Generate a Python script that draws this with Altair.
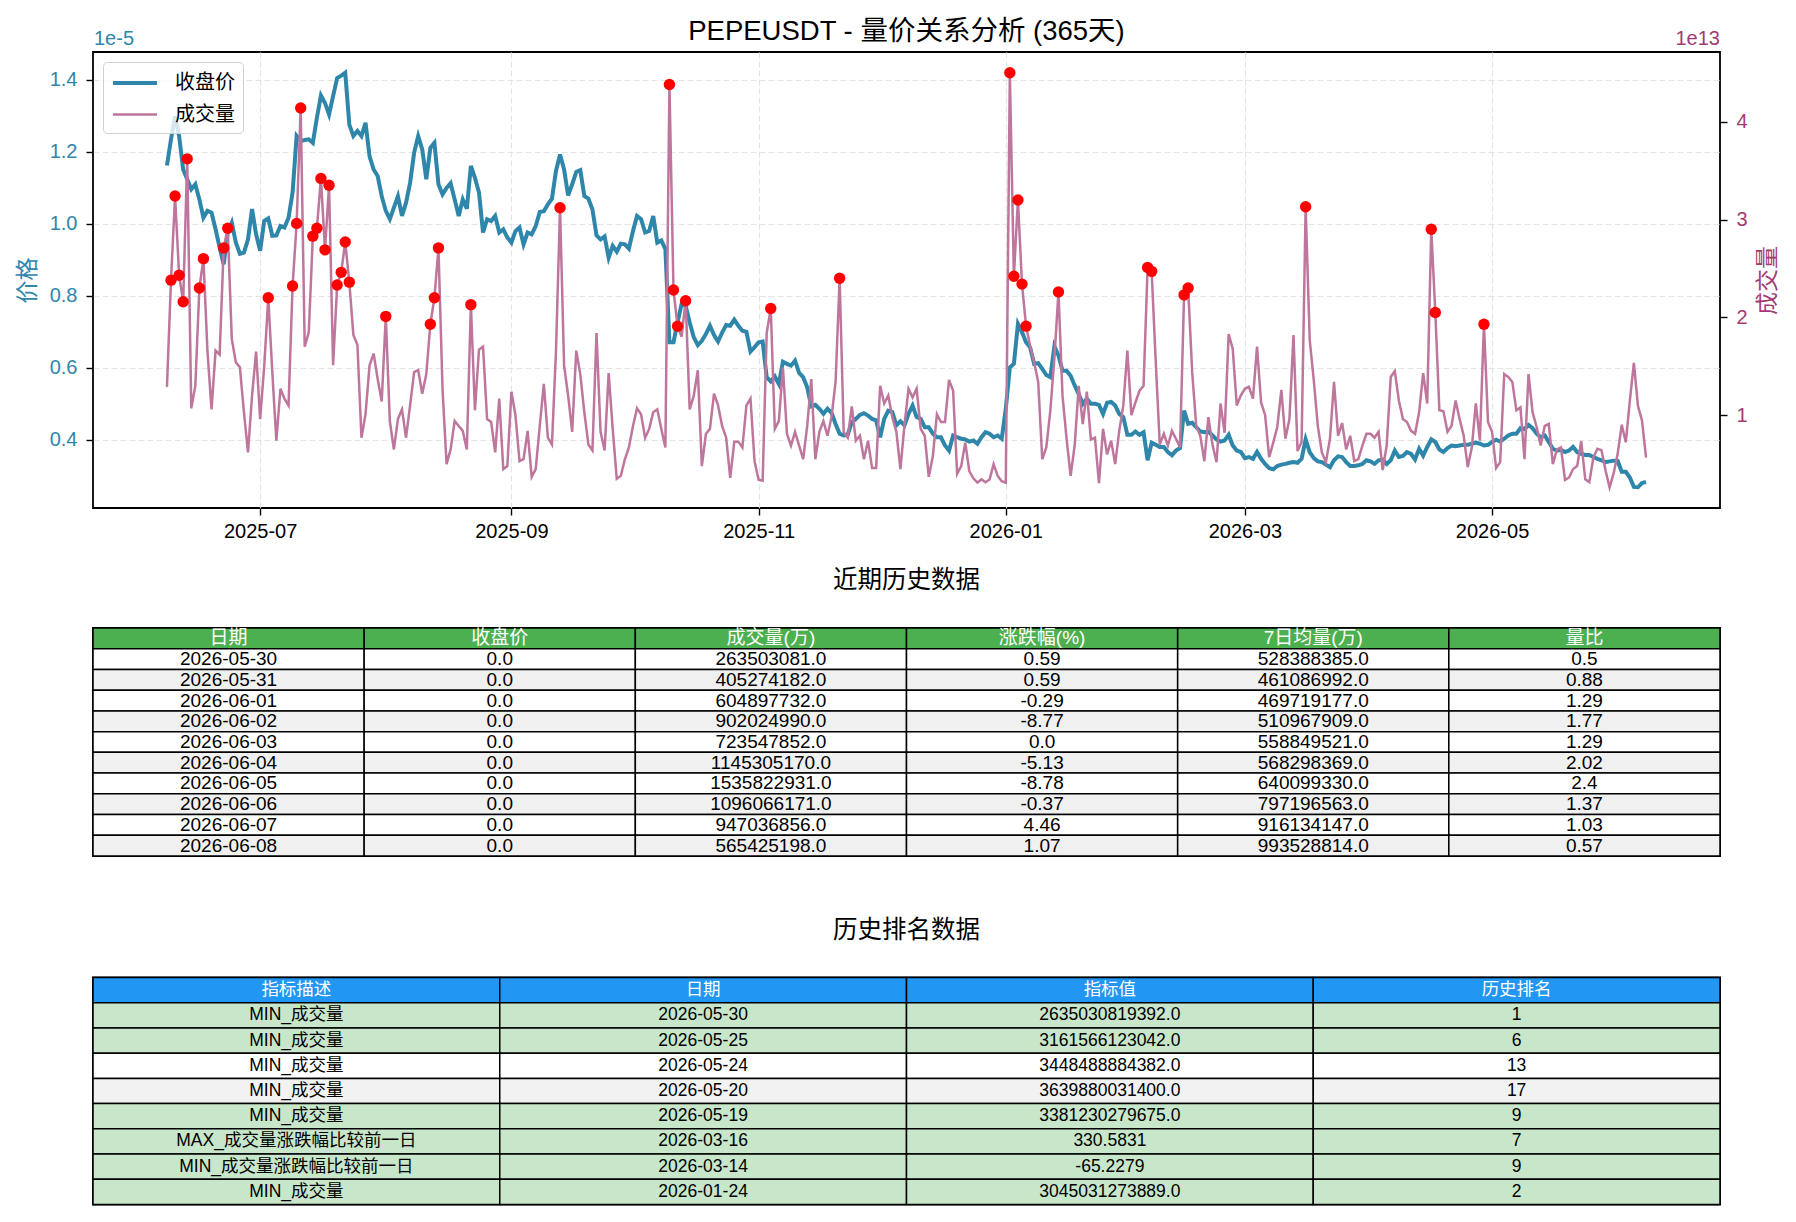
import altair as alt
import pandas as pd

FONT = "Liberation Sans, Noto Sans CJK SC"
TEAL = "#2E86AB"
PINK = "#A23B72"

# ---------------- data ----------------
START_DATE = "2025-06-08"
# closing price, in units of 1e-5 USDT
close_price = [
    1.162, 1.235, 1.299, 1.244, 1.151, 1.124, 1.096, 1.110, 1.068, 1.017,
    1.036, 1.031, 0.985, 0.934, 0.888, 0.976, 1.003, 0.948, 0.917, 0.920,
    0.957, 1.041, 0.971, 0.925, 1.008, 1.015, 0.967, 0.968, 0.994, 0.990,
    1.017, 1.087, 1.244, 1.230, 1.233, 1.235, 1.225, 1.295, 1.357, 1.336,
    1.304, 1.355, 1.405, 1.412, 1.420, 1.276, 1.244, 1.258, 1.244, 1.281,
    1.188, 1.151, 1.133, 1.077, 1.036, 1.013, 1.045, 1.077, 1.022, 1.059,
    1.114, 1.198, 1.244, 1.207, 1.124, 1.211, 1.225, 1.110, 1.082, 1.100,
    1.113, 1.068, 1.022, 1.068, 1.042, 1.161, 1.128, 1.087, 0.976, 1.013,
    1.008, 1.022, 0.976, 0.985, 0.962, 0.948, 0.980, 0.990, 0.943, 0.976,
    0.971, 0.994, 1.033, 1.035, 1.054, 1.070, 1.147, 1.193, 1.151, 1.079,
    1.110, 1.144, 1.149, 1.077, 1.070, 1.040, 0.968, 0.957, 0.965, 0.906,
    0.939, 0.923, 0.945, 0.943, 0.931, 0.980, 1.022, 1.013, 0.976, 0.980,
    1.022, 0.948, 0.954, 0.930, 0.671, 0.671, 0.726, 0.777, 0.772, 0.726,
    0.685, 0.663, 0.675, 0.694, 0.717, 0.691, 0.673, 0.698, 0.719, 0.717,
    0.734, 0.717, 0.703, 0.700, 0.645, 0.657, 0.671, 0.673, 0.574, 0.562,
    0.576, 0.555, 0.617, 0.611, 0.606, 0.620, 0.586, 0.574, 0.546, 0.493,
    0.497, 0.486, 0.472, 0.486, 0.475, 0.444, 0.417, 0.412, 0.414, 0.449,
    0.458, 0.469, 0.474, 0.467, 0.458, 0.454, 0.407, 0.458, 0.481, 0.477,
    0.440, 0.451, 0.440, 0.472, 0.495, 0.463, 0.458, 0.435, 0.435, 0.417,
    0.407, 0.407, 0.384, 0.370, 0.412, 0.407, 0.403, 0.401, 0.395, 0.398,
    0.389, 0.407, 0.421, 0.417, 0.407, 0.412, 0.403, 0.486, 0.601, 0.611,
    0.722, 0.699, 0.671, 0.657, 0.611, 0.613, 0.597, 0.580, 0.574, 0.660,
    0.634, 0.592, 0.592, 0.578, 0.551, 0.527, 0.500, 0.514, 0.500, 0.500,
    0.497, 0.472, 0.503, 0.505, 0.495, 0.472, 0.463, 0.414, 0.414, 0.423,
    0.414, 0.421, 0.343, 0.392, 0.386, 0.380, 0.380, 0.366, 0.357, 0.370,
    0.377, 0.481, 0.444, 0.447, 0.435, 0.423, 0.421, 0.423, 0.412, 0.401,
    0.395, 0.398, 0.414, 0.384, 0.370, 0.366, 0.349, 0.352, 0.347, 0.366,
    0.347, 0.333, 0.321, 0.318, 0.327, 0.331, 0.333, 0.336, 0.338, 0.336,
    0.347, 0.401, 0.366, 0.349, 0.340, 0.338, 0.331, 0.324, 0.343, 0.354,
    0.352, 0.338, 0.327, 0.327, 0.329, 0.333, 0.343, 0.340, 0.333, 0.343,
    0.345, 0.333, 0.343, 0.370, 0.352, 0.355, 0.366, 0.361, 0.345, 0.375,
    0.356, 0.380, 0.401, 0.394, 0.373, 0.366, 0.377, 0.384, 0.382, 0.384,
    0.386, 0.386, 0.389, 0.392, 0.389, 0.384, 0.386, 0.394, 0.400, 0.395,
    0.403, 0.412, 0.417, 0.417, 0.432, 0.430, 0.441, 0.432, 0.417, 0.407,
    0.412, 0.394, 0.375, 0.370, 0.372, 0.366, 0.370, 0.380, 0.366, 0.361,
    0.358, 0.358, 0.352, 0.347, 0.343, 0.338, 0.340, 0.342, 0.341, 0.311,
    0.311, 0.295, 0.269, 0.268, 0.280, 0.283,
]
# traded volume, in units of 1e13
volume = [
    1.29, 2.38, 3.24, 2.43, 2.16, 3.62, 1.07, 1.30, 2.30, 2.60,
    1.65, 1.06, 1.66, 1.62, 2.71, 2.91, 1.78, 1.54, 1.49, 1.03,
    0.62, 1.20, 1.65, 0.96, 1.50, 2.20, 1.44, 0.74, 1.27, 1.17,
    1.10, 2.32, 2.96, 4.14, 1.70, 1.85, 2.83, 2.91, 3.42, 2.69,
    3.35, 1.51, 2.33, 2.46, 2.77, 2.36, 1.82, 1.72, 0.77, 1.01,
    1.51, 1.63, 1.37, 1.14, 2.01, 0.94, 0.65, 0.96, 1.06, 0.77,
    1.10, 1.44, 1.46, 1.22, 1.42, 1.93, 2.20, 2.71, 1.27, 0.50,
    0.65, 0.94, 0.89, 0.84, 0.65, 2.13, 1.05, 1.67, 1.70, 0.96,
    0.93, 0.62, 1.17, 0.45, 0.48, 1.24, 1.00, 0.53, 0.55, 0.84,
    0.37, 0.45, 0.89, 1.32, 0.77, 0.70, 1.65, 3.12, 1.51, 1.20,
    0.83, 1.66, 1.42, 1.03, 0.70, 0.64, 1.84, 0.83, 0.64, 1.43,
    0.86, 0.35, 0.38, 0.55, 0.67, 0.89, 1.07, 1.01, 0.77, 0.86,
    1.03, 1.06, 0.86, 0.67, 4.38, 2.28, 1.91, 1.80, 2.17, 1.06,
    1.20, 1.46, 0.48, 0.81, 0.86, 1.22, 1.10, 0.89, 0.77, 0.36,
    0.73, 0.73, 0.67, 1.10, 1.17, 0.53, 0.34, 0.33, 1.84, 2.09,
    0.86, 0.94, 1.49, 0.81, 0.69, 0.83, 0.69, 0.55, 0.89, 1.37,
    0.55, 0.83, 0.94, 0.79, 0.98, 1.34, 2.40, 0.83, 0.77, 1.09,
    0.74, 0.79, 0.55, 0.74, 0.46, 0.46, 1.30, 1.12, 1.20, 0.98,
    0.83, 0.45, 0.90, 1.27, 1.18, 1.27, 0.86, 0.79, 0.37, 0.58,
    1.01, 0.93, 0.93, 1.36, 1.25, 0.40, 0.48, 0.72, 0.43, 0.355,
    0.312, 0.344, 0.315, 0.342, 0.50, 0.38, 0.325, 0.31, 4.50, 2.42,
    3.20, 2.34, 1.91, 1.71, 1.54, 1.34, 0.55, 0.67, 1.05, 1.58,
    2.26, 1.20, 0.76, 0.38, 0.69, 1.30, 0.91, 1.24, 0.75, 0.77,
    0.3045, 0.86, 0.60, 0.74, 0.50, 0.84, 1.10, 1.66, 1.00, 1.13,
    1.25, 1.30, 2.51, 2.47, 1.55, 0.70, 0.81, 0.69, 0.84, 0.76,
    0.67, 2.23, 2.30, 1.44, 0.89, 0.79, 0.53, 0.98, 0.70, 0.52,
    1.12, 0.82, 1.83, 1.68, 1.10, 1.20, 1.27, 1.29, 1.17, 1.70,
    1.13, 1.00, 0.57, 0.72, 0.88, 1.26, 0.76, 0.96, 1.82, 0.633,
    0.727, 3.13, 1.77, 1.36, 0.89, 0.62, 0.52, 0.76, 1.34, 0.79,
    0.92, 0.65, 0.79, 0.53, 0.55, 0.69, 0.81, 0.81, 0.77, 0.83,
    0.44, 0.69, 1.39, 1.45, 1.15, 0.96, 0.93, 0.84, 0.81, 1.03,
    1.43, 1.12, 2.90, 2.05, 1.05, 1.04, 0.83, 0.89, 1.15, 0.96,
    0.79, 0.47, 0.67, 1.12, 0.74, 1.93, 0.93, 0.83, 0.46, 0.52,
    1.42, 1.39, 1.34, 1.05, 1.08, 0.55, 1.42, 1.03, 0.88, 0.69,
    0.89, 0.91, 0.50, 0.65, 0.67, 0.3381, 0.3640, 0.45, 0.48, 0.7345,
    0.3448, 0.3162, 0.5673, 0.6570, 0.6428, 0.4363, 0.2635, 0.4053, 0.6049, 0.9020,
    0.7235, 1.1453, 1.5358, 1.0961, 0.9470, 0.5654,
]
HIGH_VOLUME = 1.88          # volume (1e13) above which a day is marked
PRICE_EXP_LABEL = "1e-5"
VOLUME_EXP_LABEL = "1e13"
TITLE = "PEPEUSDT - 量价关系分析 (365天)"
SERIES = ["收盘价", "成交量"]

x_tick_dates = [(2025, 7), (2025, 9), (2025, 11), (2026, 1), (2026, 3), (2026, 5)]
price_ticks = [0.4, 0.6, 0.8, 1.0, 1.2, 1.4]
volume_ticks = [1, 2, 3, 4]

# recent history table
recent_columns = ["日期", "收盘价", "成交量(万)", "涨跌幅(%)", "7日均量(万)", "量比"]
recent_dates = ["2026-05-30", "2026-05-31", "2026-06-01", "2026-06-02", "2026-06-03",
                "2026-06-04", "2026-06-05", "2026-06-06", "2026-06-07", "2026-06-08"]
recent_close = [0.0, 0.0, 0.0, 0.0, 0.0, 0.0, 0.0, 0.0, 0.0, 0.0]
recent_volume_wan = [263503081.0, 405274182.0, 604897732.0, 902024990.0, 723547852.0,
                     1145305170.0, 1535822931.0, 1096066171.0, 947036856.0, 565425198.0]
recent_change = [0.59, 0.59, -0.29, -8.77, 0.0, -5.13, -8.78, -0.37, 4.46, 1.07]
recent_avg7_wan = [528388385.0, 461086992.0, 469719177.0, 510967909.0, 558849521.0,
                   568298369.0, 640099330.0, 797196563.0, 916134147.0, 993528814.0]
recent_ratio = [0.5, 0.88, 1.29, 1.77, 1.29, 2.02, 2.4, 1.37, 1.03, 0.57]

# historical ranking table
rank_columns = ["指标描述", "日期", "指标值", "历史排名"]
rank_desc = ["MIN_成交量", "MIN_成交量", "MIN_成交量", "MIN_成交量", "MIN_成交量",
             "MAX_成交量涨跌幅比较前一日", "MIN_成交量涨跌幅比较前一日", "MIN_成交量"]
rank_dates = ["2026-05-30", "2026-05-25", "2026-05-24", "2026-05-20", "2026-05-19",
              "2026-03-16", "2026-03-14", "2026-01-24"]
rank_values = [2635030819392.0, 3161566123042.0, 3448488884382.0, 3639880031400.0,
               3381230279675.0, 330.5831, -65.2279, 3045031273889.0]
rank_pos = [1, 6, 13, 17, 9, 7, 9, 2]

# ---------------- price / volume chart ----------------
dates = pd.date_range(START_DATE, periods=len(close_price), freq="D")
df = pd.DataFrame({
    "date": dates.strftime("%Y-%m-%dT00:00:00"),
    "price": close_price,
    "volume": volume,
})

span = dates[-1] - dates[0]
lo = dates[0] - span * 0.05
hi = dates[-1] + span * 0.05


def dt(ts):
    return alt.DateTime(year=ts.year, month=ts.month, date=ts.day,
                        hours=ts.hour, minutes=ts.minute)


def pad_domain(vals):
    a, b = min(vals), max(vals)
    m = (b - a) * 0.05
    return [a - m, b + m]


GRID = dict(grid=True, gridColor="#e4e4e4", gridDash=[6, 3], gridWidth=1.2)
TICK = dict(tickColor="black", tickSize=7, tickWidth=1.4, domain=False)

x_enc = alt.X(
    "date:T",
    scale=alt.Scale(domain=[dt(lo), dt(hi)]),
    axis=alt.Axis(values=[alt.DateTime(year=y, month=m, date=1) for y, m in x_tick_dates],
                  format="%Y-%m", title=None, labelAngle=0, labelFontSize=20,
                  labelColor="black", labelFont=FONT, labelPadding=6, **TICK, **GRID),
)
y_price = alt.Y(
    "price:Q",
    scale=alt.Scale(domain=pad_domain(close_price), zero=False, nice=False),
    axis=alt.Axis(orient="left", values=price_ticks, format=".1f", title="价格",
                  titleColor=TEAL, titleFontSize=23, titleFont=FONT, titleFontWeight="normal",
                  titlePadding=10, labelColor=TEAL, labelFontSize=20, labelFont=FONT,
                  labelPadding=9, **TICK, **GRID),
)
y_vol = alt.Y(
    "volume:Q",
    scale=alt.Scale(domain=pad_domain(volume), zero=False, nice=False),
    axis=alt.Axis(orient="right", values=volume_ticks, format="d", title="成交量",
                  titleColor=PINK, titleFontSize=23, titleFont=FONT, titleFontWeight="normal",
                  titleAngle=270, titleBaseline="top", titlePadding=9, labelColor=PINK,
                  labelFontSize=20, labelFont=FONT, labelPadding=9, grid=False, **TICK),
)

color_scale = alt.Scale(domain=SERIES, range=[TEAL, "#be769c"])
width_scale = alt.Scale(domain=SERIES, range=[4, 2.5])
legend = alt.Legend(title=None, orient="top-left", offset=10,
                    fillColor="rgba(255,255,255,0.8)", strokeColor="#d0d0d0",
                    cornerRadius=4, padding=8, labelFontSize=20, labelFont=FONT,
                    labelColor="black", symbolType="M-1,0L3,0", symbolSize=484,
                    symbolStrokeWidth=3.5, rowPadding=9, labelOffset=38)


def series_line(name, y):
    return alt.Chart(df).transform_calculate(series=f"'{name}'").mark_line().encode(
        x=x_enc, y=y,
        color=alt.Color("series:N", scale=color_scale, legend=legend),
        strokeWidth=alt.StrokeWidth("series:N", scale=width_scale, legend=legend))


price_line = series_line(SERIES[0], y_price)
vol_line = series_line(SERIES[1], y_vol)
dots = alt.Chart(df).transform_filter(alt.datum.volume > HIGH_VOLUME).mark_circle(
    color="red", size=130, opacity=1).encode(x=x_enc, y=y_vol)

exp_left = alt.Chart(pd.DataFrame({"t": [PRICE_EXP_LABEL]})).mark_text(
    align="left", baseline="middle", fontSize=20, font=FONT, color=TEAL
).encode(text="t:N", x=alt.value(1), y=alt.value(-13))
exp_right = alt.Chart(pd.DataFrame({"t": [VOLUME_EXP_LABEL]})).mark_text(
    align="right", baseline="middle", fontSize=20, font=FONT, color=PINK
).encode(text="t:N", x=alt.value(1627), y=alt.value(-13))

main = alt.layer(price_line, alt.layer(vol_line, dots), exp_left, exp_right).resolve_scale(
    y="independent"
).properties(width=1627, height=456,
             title=alt.Title(TITLE, fontSize=27.5, font=FONT, fontWeight="normal",
                             color="black", offset=-16))

# ---------------- tables ----------------
def table_frame(columns, rows, fills, header_fill):
    recs = []
    for c in columns:
        recs.append(dict(row=0, col=c, text=c, fill=header_fill, tcolor="white"))
    for i, (r, f) in enumerate(zip(rows, fills), start=1):
        for c, v in zip(columns, r):
            recs.append(dict(row=i, col=c, text=str(v), fill=f, tcolor="black"))
    return pd.DataFrame(recs)


def table_chart(frame, columns, height, fsize, title):
    b = alt.Chart(frame).encode(
        x=alt.X("col:N", sort=columns, axis=None,
                scale=alt.Scale(paddingInner=0, paddingOuter=0)),
        y=alt.Y("row:O", axis=None, scale=alt.Scale(paddingInner=0, paddingOuter=0)),
    )
    rect = b.mark_rect(stroke="black", strokeWidth=1.5).encode(
        fill=alt.Fill("fill:N", scale=None))
    text = b.mark_text(fontSize=fsize, font=FONT).encode(
        text="text:N", color=alt.Color("tcolor:N", scale=None))
    return alt.layer(rect, text).properties(
        width=1627, height=height,
        title=alt.Title(title, fontSize=24.5, font=FONT, fontWeight="normal",
                        color="black", offset=33.5))


recent_rows = list(zip(recent_dates, recent_close, recent_volume_wan, recent_change,
                       recent_avg7_wan, recent_ratio))
recent_fills = ["#f0f0f0" if i % 2 else "white" for i in range(len(recent_rows))]
t1 = table_chart(table_frame(recent_columns, recent_rows, recent_fills, "#4CAF50"),
                 recent_columns, 228, 19, "近期历史数据")

rank_rows = list(zip(rank_desc, rank_dates, rank_values, rank_pos))
rank_fills = ["#C8E6C9" if p <= 10 else ("#f2f2f2" if i % 2 else "white")
              for i, p in enumerate(rank_pos)]
t2 = table_chart(table_frame(rank_columns, rank_rows, rank_fills, "#2196F3"),
                 rank_columns, 227, 17.5, "历史排名数据")

chart = alt.vconcat(main, alt.vconcat(t1, t2, spacing=58.5), spacing=25).configure(
    padding={"left": 15, "top": 16, "right": 10, "bottom": 5}, font=FONT
).configure_view(stroke="black", strokeWidth=1.8).configure_title(anchor="middle")

chart.save("out.html", embed_options={"renderer": "svg", "actions": False})
